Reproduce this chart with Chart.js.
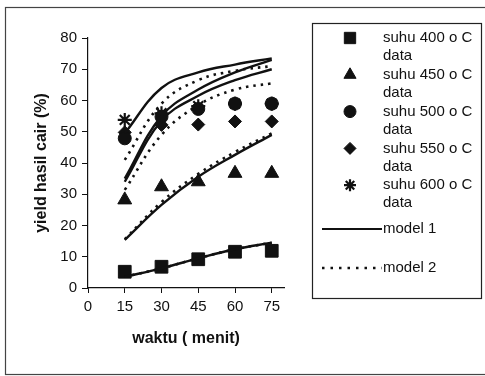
<!DOCTYPE html>
<html>
<head>
<meta charset="utf-8">
<script src="https://cdn.jsdelivr.net/npm/chart.js@4/dist/chart.umd.min.js"></script>
<style>
html,body{margin:0;padding:0;background:#fff;}
#wrap{width:485px;height:376px;position:relative;}
</style>
</head>
<body>
<div id="wrap"><canvas id="c" width="485" height="376"></canvas></div>
<script>
// ---- data ----
const waktu = [15, 30, 45, 60, 75];
const xTicks = [0, 15, 30, 45, 60, 75];
const data400 = [5.2, 6.8, 9.2, 11.6, 11.9];
const data450 = [28.2, 32.4, 34.0, 36.7, 36.7];
const data500 = [47.9, 54.8, 57.3, 59.0, 59.0];
const data550 = [49.8, 52.2, 52.3, 53.3, 53.3];
const data600 = [53.8, 55.9, 58.2, 59.0, 59.0];

const model1_400 = [3.6, 6.3, 9.5, 12.4, 14.5];
const model1_450 = [15.4, 26.6, 35.6, 42.6, 49.0];
const model1_500 = [34.0, 53.5, 61.5, 66.5, 70.0];
const model1_550 = [35.0, 55.0, 63.5, 69.0, 73.0];
const model1_600 = [49.5, 64.0, 69.0, 71.5, 73.5];

const model2_400 = [3.6, 6.3, 9.5, 12.4, 14.5];
const model2_450 = [15.6, 27.5, 36.5, 43.5, 49.5];
const model2_500 = [31.4, 49.0, 58.5, 63.5, 65.5];
const model2_550 = [41.0, 59.0, 66.5, 69.5, 71.0];

const dataLabels = ["suhu 400 o C data", "suhu 450 o C data", "suhu 500 o C data", "suhu 550 o C data", "suhu 600 o C data"];
const modelLabels = ["model 1", "model 2"];

const INK = '#111';
const pts = arr => arr.map((v, i) => ({x: waktu[i], y: v}));

function dataSet(label, arr, style, r) {
  return {label, data: pts(arr), showLine: false, pointStyle: style, pointRadius: r,
    pointHoverRadius: r, backgroundColor: INK, borderColor: INK,
    pointBorderWidth: style === 'star' ? 2.2 : 1, order: 2};
}
function modelSet(label, arr, dashed) {
  return {label, data: pts(arr), showLine: true, pointRadius: 0, borderColor: INK,
    backgroundColor: INK, borderWidth: dashed ? 2.6 : 2.4, borderDash: dashed ? [2.5, 5] : [],
    tension: 0.4, order: 1, isModel: true, dashed};
}

const datasets = [
  dataSet(dataLabels[0], data400, 'rect', 9),
  dataSet(dataLabels[1], data450, 'triangle', 8),
  dataSet(dataLabels[2], data500, 'circle', 6.5),
  dataSet(dataLabels[3], data550, 'rectRot', 6.5),
  dataSet(dataLabels[4], data600, 'star', 7),
  modelSet(modelLabels[0], model1_400, false),
  modelSet(modelLabels[0], model1_450, false),
  modelSet(modelLabels[0], model1_500, false),
  modelSet(modelLabels[0], model1_550, false),
  modelSet(modelLabels[0], model1_600, false),
  modelSet(modelLabels[1], model2_400, true),
  modelSet(modelLabels[1], model2_450, true),
  modelSet(modelLabels[1], model2_500, true),
  modelSet(modelLabels[1], model2_550, true),
];

const frameAndLegend = {
  id: 'frameAndLegend',
  beforeDraw(chart) {
    const ctx = chart.ctx;
    ctx.save();
    ctx.fillStyle = '#fff';
    ctx.fillRect(0, 0, chart.width, chart.height);
    ctx.strokeStyle = '#444';
    ctx.lineWidth = 1.2;
    ctx.strokeRect(5.5, 7.5, 490, 367);
    ctx.restore();
  },
  afterDraw(chart) {
    const ctx = chart.ctx;
    ctx.save();
    ctx.strokeStyle = '#222';
    ctx.lineWidth = 1.2;
    ctx.strokeRect(312.5, 23.5, 169, 275);
    ctx.font = '15px "Liberation Sans", Arial, sans-serif';
    ctx.fillStyle = INK;
    ctx.textBaseline = 'middle';
    ctx.textAlign = 'left';
    const ds = chart.data.datasets;
    for (let i = 0; i < 5; i++) {
      const d = ds[i];
      const y = 38 + 36.8 * i;
      const r = d.pointStyle === 'rect' ? 8 : (d.pointStyle === 'triangle' ? 7 : 6);
      ctx.fillStyle = INK; ctx.strokeStyle = INK;
      ctx.lineWidth = d.pointStyle === 'star' ? 2.2 : 1;
      Chart.helpers.drawPoint(ctx, {pointStyle: d.pointStyle, radius: r, rotation: 0, borderWidth: ctx.lineWidth}, 350, y);
      const words = d.label.split(' ');
      const last = words.pop();
      ctx.fillStyle = INK;
      ctx.fillText(words.join(' '), 383, y);
      ctx.fillText(last, 383, y + 18);
    }
    // model lines
    const m = [{y: 229, dashed: false, label: modelLabels[0]}, {y: 268, dashed: true, label: modelLabels[1]}];
    m.forEach(e => {
      ctx.beginPath();
      ctx.lineWidth = e.dashed ? 2.4 : 2.2;
      ctx.setLineDash(e.dashed ? [2.5, 6] : []);
      ctx.strokeStyle = INK;
      ctx.moveTo(322, e.y); ctx.lineTo(382, e.y);
      ctx.stroke();
      ctx.setLineDash([]);
      ctx.fillText(e.label, 383, e.y);
    });
    ctx.restore();
  }
};

new Chart(document.getElementById('c'), {
  type: 'scatter',
  data: {datasets},
  plugins: [frameAndLegend],
  options: {
    responsive: false,
    animation: false,
    devicePixelRatio: 1,
    layout: {padding: {left: 0, top: 38, right: 201, bottom: 0}},
    plugins: {legend: {display: false}, tooltip: {enabled: false}},
    scales: {
      x: {
        type: 'linear', min: 0, max: 80,
        afterBuildTicks: s => { s.ticks = xTicks.map(v => ({value: v})); },
        afterFit: s => { s.height = 88; },
        grid: {display: true, drawOnChartArea: false, drawTicks: true, tickLength: 5, color: INK},
        border: {display: true, color: INK, width: 1.2},
        ticks: {color: INK, font: {family: '"Liberation Sans", Arial, sans-serif', size: 15}, padding: 5, maxRotation: 0, autoSkip: false},
        title: {display: true, text: 'waktu ( menit)', color: INK,
          font: {family: '"Liberation Sans", Arial, sans-serif', size: 16, weight: 'bold'}, padding: {top: 0, bottom: 28}}
      },
      y: {
        type: 'linear', min: 0, max: 80,
        ticks: {stepSize: 10, color: INK, font: {family: '"Liberation Sans", Arial, sans-serif', size: 15}, padding: 5},
        afterFit: s => { s.width = 88; },
        grid: {display: true, drawOnChartArea: false, drawTicks: true, tickLength: 6, color: INK},
        border: {display: true, color: INK, width: 1.2},
        title: {display: true, text: 'yield hasil cair (%)', color: INK,
          font: {family: '"Liberation Sans", Arial, sans-serif', size: 16, weight: 'bold'}, padding: {top: 32, bottom: 0}}
      }
    }
  }
});
</script>
</body>
</html>
